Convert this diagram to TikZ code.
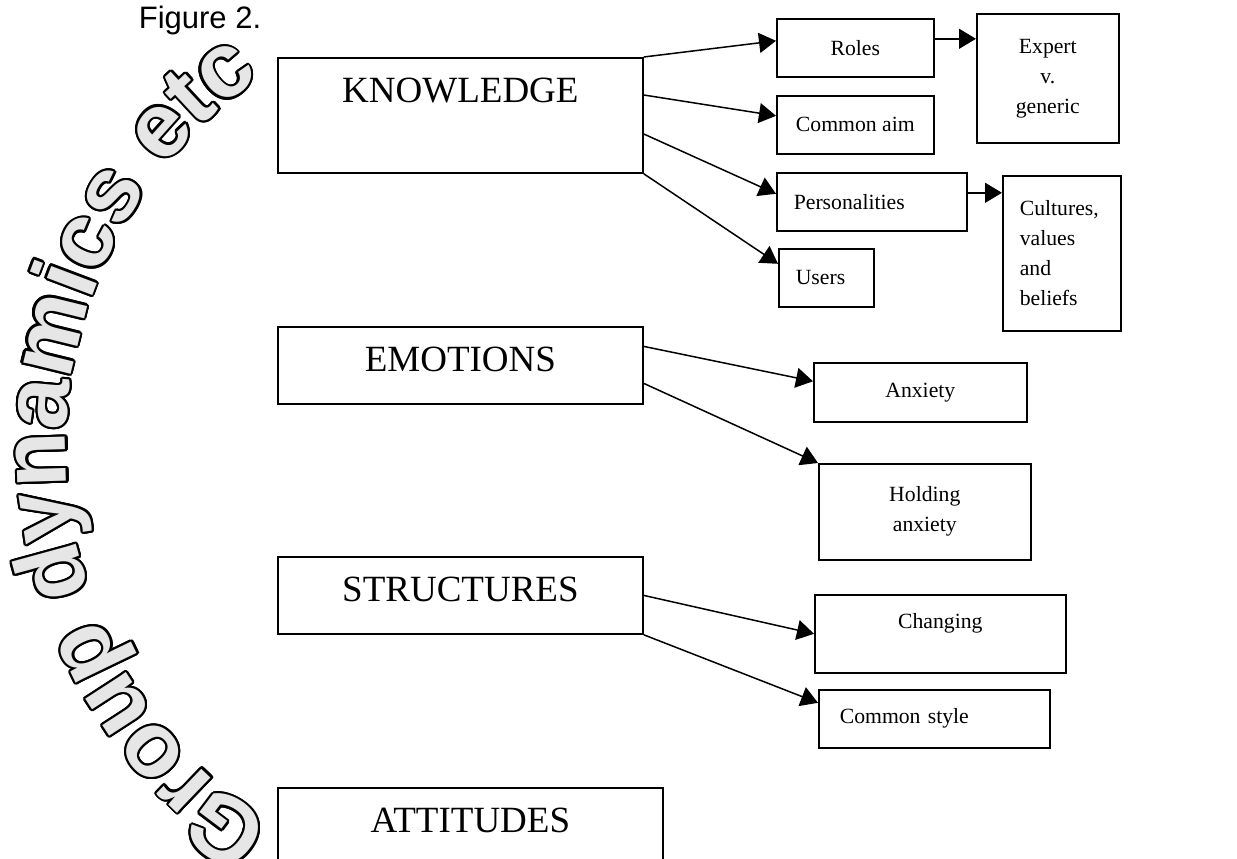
\documentclass[tikz,border=0pt]{standalone}
\usepackage{fontspec}
\setmainfont{Liberation Serif}
\newfontfamily\figfont{Liberation Sans}
\usetikzlibrary{arrows.meta,positioning,calc,decorations.text}
\definecolor{letterfill}{RGB}{230,230,230}
\newcommand\headfont{\fontsize{37}{44}\selectfont}
\newcommand\subfont{\fontsize{21.7}{30}\selectfont}
\newcommand\grpstyle{\figfont\bfseries\fontsize{92}{100}\selectfont}

\begin{document}
\begin{tikzpicture}[
  x=1pt,y=1pt,
  headbox/.style={draw,line width=1.8pt,anchor=north west,inner xsep=0pt,inner ysep=0pt,
                  minimum width=365pt,text height=45pt,font=\headfont},
  subbox/.style={draw,line width=1.6pt,anchor=north west,inner sep=0pt,align=center,font=\subfont},
  leftbox/.style={subbox,inner xsep=17pt,align=left},
  arr/.style={-{Triangle[length=17pt,width=20pt]},line width=1.5pt},
  grptext/.style={decorate,decoration={text along path,text align=left,
                  text={|\grpstyle\color{#1}|Group dynamics etc}}},
]
  \useasboundingbox (0,0) rectangle (1237,-859);

  % Title
  \node[font=\figfont\fontsize{31}{36}\selectfont] (fig) at (200,-20) {Figure 2.};

  % Curved heading (black outline copies, then light fill)
  \coordinate (arcc) at (514,-447);
  \foreach \a in {0,20,...,340}
    \path[grptext=black]
      ($(arcc)+(\a:2.2)$) ++(237.5:448) arc[start angle=237.5,end angle=112,radius=448];
  \path[grptext=letterfill]
    (arcc) ++(237.5:448) arc[start angle=237.5,end angle=112,radius=448];

  % Main headings
  \node[headbox,minimum height=115pt,text depth=70pt] (know) at (277,-57) {KNOWLEDGE};
  \node[headbox,minimum height=77pt,text depth=32pt] (emo) at (277,-326) {EMOTIONS};
  \node[headbox,minimum height=77pt,text depth=32pt] (struct) at (277,-556) {STRUCTURES};
  \node[headbox,minimum width=385pt,minimum height=115pt,text depth=70pt] (att) at (277,-787) {ATTITUDES};

  % Knowledge branches
  \node[subbox,minimum width=157pt,minimum height=58pt] (roles) at (776,-18) {Roles};
  \node[subbox,minimum width=157pt,minimum height=58pt] (aim) at (776,-95) {Common aim};
  \node[leftbox,text width=156pt,minimum height=58pt] (pers) at (776,-172) {Personalities};
  \node[leftbox,text width=61pt,minimum height=58pt] (users) at (778,-248) {Users};
  \node[subbox,minimum width=142pt,minimum height=129pt] (expert) at (976,-13) {Expert\\v.\\generic};
  \node[leftbox,text width=84pt,minimum height=155pt] (cult) at (1002,-175) {Cultures,\\values\\and\\beliefs};

  % Emotion branches
  \node[subbox,minimum width=213pt,minimum height=59pt] (anx) at (813,-362) {Anxiety};
  \node[subbox,minimum width=212pt,minimum height=96pt] (hold) at (818,-463) {Holding\\anxiety};

  % Structure branches
  \node[subbox,minimum width=251pt,text height=34pt,text depth=44pt] (chg) at (814,-594) {Changing};
  \node[leftbox,inner xsep=21pt,text width=189pt,minimum height=58pt] (cstyle) at (818,-689) {Common style};

  % Connections
  \draw[arr] (know.north east) -- ([yshift=7pt]roles.west);
  \draw[arr] ([yshift=-38pt]know.north east) -- ([yshift=9pt]aim.west);
  \draw[arr] ([yshift=-77pt]know.north east) -- ([yshift=8pt]pers.west);
  \draw[arr] (know.south east) -- ([yshift=14pt]users.west);
  \draw[arr] ([yshift=9pt]roles.east) -- ([yshift=9pt]roles.east -| expert.west);
  \draw[arr] ([yshift=9pt]pers.east) -- ([yshift=9pt]pers.east -| cult.west);

  \draw[arr] ([yshift=19pt]emo.east) -- ([yshift=11pt]anx.west);
  \draw[arr] ([yshift=-18pt]emo.east) -- (hold.north west);

  \draw[arr] (struct.east) -- (chg.west);
  \draw[arr] (struct.south east) -- ([yshift=16pt]cstyle.west);
\end{tikzpicture}
\end{document}
